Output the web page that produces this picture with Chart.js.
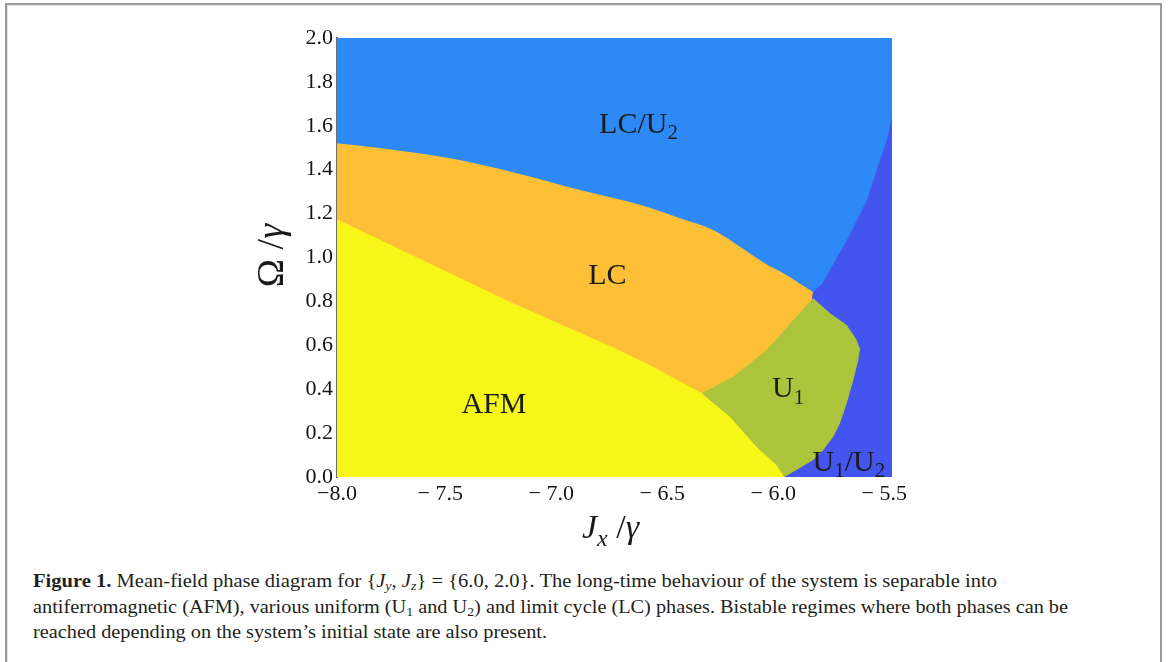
<!DOCTYPE html>
<html><head><meta charset="utf-8">
<script src="https://cdn.jsdelivr.net/npm/chart.js@4.4.1/dist/chart.umd.min.js"></script>
<style>
html,body{margin:0;padding:0;background:#fff;width:1168px;height:662px;overflow:hidden;}
#frame{position:absolute;left:5px;top:3px;width:1153px;height:720px;border:2px solid #9a9a9a;box-shadow:inset 1px 1px 0 #e2e2e2;}
#c{position:absolute;left:0;top:0;}
.cap{position:absolute;left:33px;white-space:nowrap;font-family:"Liberation Serif",serif;font-size:19.5px;line-height:19px;color:#231f20;transform-origin:0 0;}
.cap sub{font-size:0.68em;vertical-align:-0.25em;line-height:0;}
</style></head><body>
<div id="frame"></div>
<canvas id="c" width="1168" height="550"></canvas>
<div class="cap" id="cap1" style="top:571px"><b>Figure 1.</b> Mean-field phase diagram for {<i>J</i><sub><i>y</i></sub>, <i>J</i><sub><i>z</i></sub>} = {6.0, 2.0}. The long-time behaviour of the system is separable into</div>
<div class="cap" id="cap2" style="top:597px">antiferromagnetic (AFM), various uniform (U<sub>1</sub> and U<sub>2</sub>) and limit cycle (LC) phases. Bistable regimes where both phases can be</div>
<div class="cap" id="cap3" style="top:622px">reached depending on the system’s initial state are also present.</div>
<script>
// ---- axis ranges and ticks ----
const X_TICKS = [-8.0, -7.5, -7.0, -6.5, -6.0, -5.5];
const X_TICK_LABELS = ['−8.0', '− 7.5', '− 7.0', '− 6.5', '− 6.0', '− 5.5'];
const Y_TICKS = [0.0, 0.2, 0.4, 0.6, 0.8, 1.0, 1.2, 1.4, 1.6, 1.8, 2.0];
const Y_TICK_LABELS = ['0.0', '0.2', '0.4', '0.6', '0.8', '1.0', '1.2', '1.4', '1.6', '1.8', '2.0'];

// ---- phase boundaries (Jx/γ, Ω/γ) ----
// LC/U2 background region (top of the diagram)
const BG_X = [-8.0, -5.5];
const BG_Y = [2.0, 2.0];
// upper boundary of LC region
const LC_TOP_X = [-8.0, -7.79, -7.49, -7.19, -6.905, -6.605, -6.455, -6.305, -6.185, -6.075, -5.975, -5.915, -5.856];
const LC_TOP_Y = [1.52, 1.497, 1.452, 1.384, 1.307, 1.231, 1.179, 1.125, 1.049, 0.975, 0.92, 0.88, 0.843];
// U1/U2 boundary (region to the right of it)
const U1U2_X = [-5.985, -5.856, -5.815, -5.779, -5.739, -5.703, -5.658, -5.613, -5.554, -5.523, -5.5];
const U1U2_Y = [0.0, 0.843, 0.879, 0.943, 1.016, 1.08, 1.171, 1.262, 1.444, 1.535, 1.645];
// upper boundary of AFM region
const AFM_X = [-8.0, -7.6, -7.2, -6.8, -6.6, -6.357, -6.23, -6.11, -6.02, -5.985];
const AFM_Y = [1.174, 0.981, 0.788, 0.61, 0.515, 0.381, 0.275, 0.138, 0.055, 0.0];
// U1 region: upper and lower boundaries
const U1_TOP_X = [-6.357, -6.215, -6.065, -5.945, -5.869, -5.855, -5.779, -5.704, -5.659, -5.644];
const U1_TOP_Y = [0.381, 0.457, 0.579, 0.715, 0.799, 0.814, 0.746, 0.692, 0.624, 0.582];
const U1_BOT_X = [-6.357, -6.23, -6.11, -6.02, -5.985, -5.93, -5.855, -5.809, -5.764, -5.734, -5.704, -5.674, -5.652, -5.644];
const U1_BOT_Y = [0.381, 0.275, 0.138, 0.055, 0.0, 0.032, 0.077, 0.123, 0.184, 0.245, 0.336, 0.442, 0.533, 0.582];

// ---- region labels ----
const LABEL_TEXT = [
  [['LC/U', 0, 0], ['2', 0, 1]],
  [['LC', 0, 0]],
  [['U', 0, 0], ['1', 0, 1]],
  [['AFM', 0, 0]],
  [['U', 0, 0], ['1', 0, 1], ['/U', 0, 0], ['2', 0, 1]]
];
const LABEL_X = [-6.642, -6.782, -5.968, -7.293, -5.694];
const LABEL_Y = [1.613, 0.925, 0.41, 0.337, 0.073];
const X_TITLE = [['J', 1, 0], ['x', 1, 1], [' /', 0, 0], ['γ', 1, 0]];
const Y_TITLE = [['Ω', 0, 0], [' /', 0, 0], ['γ', 1, 0]];

const C_BLUE = '#2d89f5', C_DARK = '#4454ef', C_ORANGE = '#fcbf36', C_YELLOW = '#f6f618', C_GREEN = '#abc43b';
const SERIF = '"Liberation Serif", "Times New Roman", serif';

const pts = (xs, ys) => xs.map((x, i) => ({x: x, y: ys[i]}));
const base = {borderColor: 'rgba(0,0,0,0)', borderWidth: 0, pointRadius: 0, pointHoverRadius: 0, tension: 0};
const smooth = {cubicInterpolationMode: 'monotone'};

function drawRich(ctx, parts, cx, cy, size, rot) {
  const fonts = parts.map(p => (p[1] ? 'italic ' : '') + (p[2] ? Math.round(size * 0.7) : size) + 'px ' + SERIF);
  let w = 0; const ws = [];
  parts.forEach((p, i) => { ctx.font = fonts[i]; const m = ctx.measureText(p[0]).width; ws.push(m); w += m; });
  ctx.save();
  ctx.translate(cx, cy);
  if (rot) ctx.rotate(rot);
  ctx.textBaseline = 'alphabetic'; ctx.textAlign = 'left'; ctx.fillStyle = '#1a1a1a';
  let x = -w / 2; const b = size * 0.33;
  parts.forEach((p, i) => { ctx.font = fonts[i]; ctx.fillText(p[0], x, b + (p[2] ? size * 0.22 : 0)); x += ws[i]; });
  ctx.restore();
}

const textPlugin = {
  id: 'phaseText',
  afterDatasetsDraw(chart) {
    const ctx = chart.ctx, xs = chart.scales.x, ys = chart.scales.y;
    LABEL_TEXT.forEach((parts, i) => drawRich(ctx, parts, xs.getPixelForValue(LABEL_X[i]), ys.getPixelForValue(LABEL_Y[i]), 30, 0));
  },
  afterDraw(chart) {
    const ctx = chart.ctx, a = chart.chartArea;
    drawRich(ctx, X_TITLE, (a.left + a.right) / 2 - 4, a.bottom + 50, 34, 0);
    drawRich(ctx, Y_TITLE, a.left - 67, (a.top + a.bottom) / 2 - 2, 38, -Math.PI / 2);
  }
};

new Chart(document.getElementById('c'), {
  type: 'line',
  data: {
    datasets: [
      Object.assign({data: pts(BG_X, BG_Y), backgroundColor: C_BLUE, fill: 'origin', order: 5}, base),
      Object.assign({data: pts(LC_TOP_X, LC_TOP_Y), backgroundColor: C_ORANGE, fill: 'origin', order: 4}, base, smooth),
      Object.assign({data: pts(U1U2_X, U1U2_Y), backgroundColor: C_DARK, fill: 'origin', order: 3}, base),
      Object.assign({data: pts(AFM_X, AFM_Y), backgroundColor: C_YELLOW, fill: 'origin', order: 2}, base),
      Object.assign({data: pts(U1_TOP_X, U1_TOP_Y), backgroundColor: C_GREEN, fill: 5, order: 1}, base),
      Object.assign({data: pts(U1_BOT_X, U1_BOT_Y), backgroundColor: C_GREEN, fill: false, order: 0}, base)
    ]
  },
  options: {
    responsive: false, animation: false, devicePixelRatio: 1, events: [],
    layout: {padding: {left: 250, top: 38, right: 276, bottom: 5}},
    plugins: {legend: {display: false}, tooltip: {enabled: false}},
    scales: {
      x: {
        type: 'linear', min: -8.0, max: -5.5,
        afterBuildTicks: s => { s.ticks = X_TICKS.map(v => ({value: v})); },
        afterFit: s => { s.height = 68; },
        grid: {display: false, drawTicks: false},
        border: {display: false},
        ticks: {
          padding: 4, color: '#151515', font: {family: SERIF, size: 22}, maxRotation: 0,
          callback: (v, i) => X_TICK_LABELS[i] + (X_TICK_LABELS[i].indexOf(' ') >= 0 ? '\u2002\u2009' : '')
        }
      },
      y: {
        type: 'linear', min: 0, max: 2.0,
        afterBuildTicks: s => { s.ticks = Y_TICKS.map(v => ({value: v})); },
        afterFit: s => { s.width = 87; },
        grid: {display: false, drawTicks: false},
        border: {display: true, color: '#707070', width: 2},
        ticks: {padding: 4, color: '#151515', font: {family: SERIF, size: 22}, callback: (v, i) => Y_TICK_LABELS[i]}
      }
    }
  },
  plugins: [textPlugin]
});

// fit caption lines to the reference widths
const CAP_W = [964, 1035, 514];
['cap1', 'cap2', 'cap3'].forEach((id, i) => {
  const el = document.getElementById(id);
  const w = el.getBoundingClientRect().width;
  el.style.transform = 'scaleX(' + (CAP_W[i] / w) + ')';
});
</script>
</body></html>
